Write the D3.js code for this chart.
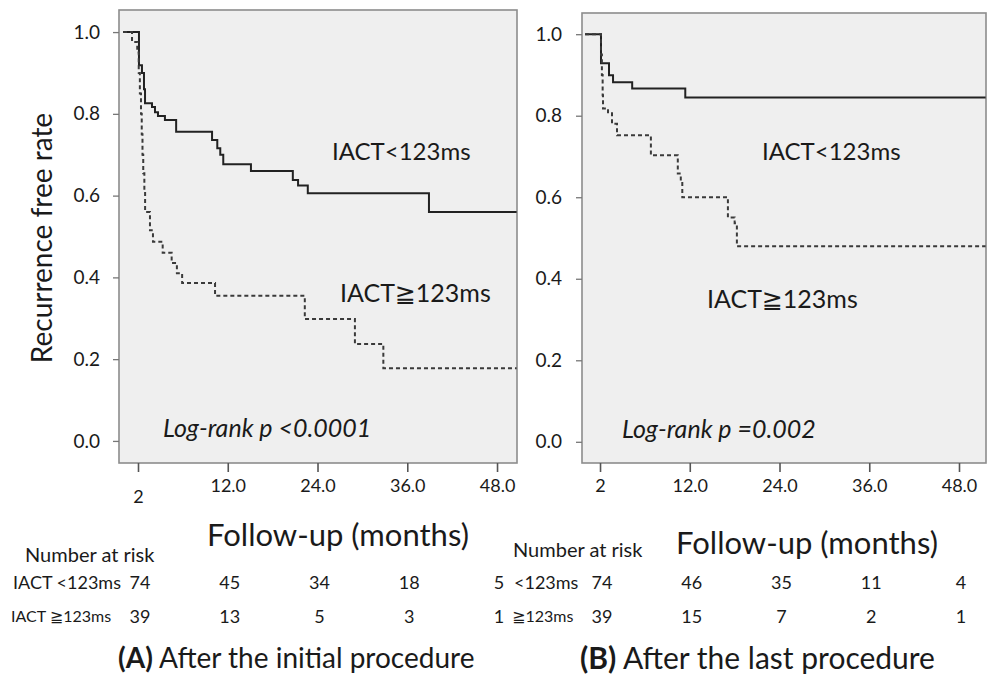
<!DOCTYPE html>
<html>
<head>
<meta charset="utf-8">
<script src="https://cdn.jsdelivr.net/npm/d3@7"></script>
<style>
  body { margin: 0; background: #fff; }
  text { font-family: Lato, "DejaVu Sans", sans-serif; fill: #1a1a1a; }
</style>
</head>
<body>
<svg id="chart" width="989" height="686"></svg>
<script>
// follow-up months at the axis ticks and the labels printed under them
const tickMonths = [0, 12, 24, 36, 48];
const tickLabels = ["2", "12.0", "24.0", "36.0", "48.0"];
const yTicks = [0, 0.2, 0.4, 0.6, 0.8, 1.0];

// (A) after the initial procedure
const timeA_short = [-2, 0.13, 0.53, 0.8, 0.94, 1.87, 2.27, 2.67, 3.6, 5.1, 9.9, 10.6, 11.0, 11.4, 15.1, 20.7, 21.4, 22.7, 38.9];
const survA_short = [1.0, 0.919, 0.90, 0.86, 0.826, 0.817, 0.804, 0.795, 0.785, 0.756, 0.736, 0.716, 0.70, 0.677, 0.66, 0.638, 0.625, 0.606, 0.56];
const timeA_long = [-2, -0.8, -0.1, 0.1, 0.25, 0.4, 0.5, 0.6, 0.7, 0.85, 0.95, 1.6, 2.0, 3.3, 4.5, 5.2, 5.9, 10.3, 22.3, 29.0, 32.8];
const survA_long = [1.0, 0.976, 0.95, 0.90, 0.85, 0.80, 0.75, 0.70, 0.655, 0.61, 0.56, 0.515, 0.487, 0.46, 0.435, 0.41, 0.386, 0.355, 0.298, 0.237, 0.178];

// (B) after the last procedure
const timeB_short = [-2, 0.13, 1.2, 1.74, 4.3, 11.4];
const survB_short = [1.0, 0.929, 0.899, 0.882, 0.867, 0.845];
const timeB_long = [-2, 0.13, 0.25, 0.35, 0.4, 1.07, 1.6, 2.27, 6.8, 10.4, 10.8, 11.0, 17.1, 18.0, 18.3];
const survB_long = [1.0, 0.95, 0.90, 0.85, 0.818, 0.806, 0.78, 0.752, 0.703, 0.658, 0.641, 0.60, 0.55, 0.536, 0.48];

// number at risk under each tick
const riskA_short = [74, 45, 34, 18, 5];
const riskA_long = [39, 13, 5, 3, 1];
const riskB_short = [74, 46, 35, 11, 4];
const riskB_long = [39, 15, 7, 2, 1];

const svg = d3.select("#chart");

function drawPanel(p) {
  const x = d3.scaleLinear().domain(p.xDomain).range([p.box.left, p.box.right]);
  const y = d3.scaleLinear().domain(p.yDomain).range([p.box.bottom, p.box.top]);
  const g = svg.append("g");

  g.append("rect")
    .attr("x", p.box.left)
    .attr("y", p.box.top)
    .attr("width", p.box.right - p.box.left)
    .attr("height", p.box.bottom - p.box.top)
    .attr("fill", "#efefef")
    .attr("stroke", "#8c8c8c")
    .attr("stroke-width", 1.6);

  const yAxis = g.append("g")
    .attr("transform", "translate(" + p.box.left + ",0)")
    .call(d3.axisLeft(y).tickValues(yTicks).tickFormat(d3.format(".1f")).tickSize(6).tickPadding(p.yPad));
  yAxis.select(".domain").remove();
  yAxis.selectAll("line").attr("stroke", "#777").attr("stroke-width", 1.3);
  yAxis.selectAll("text").style("font-size", "19px").attr("fill", "#1a1a1a");

  const xAxis = g.append("g")
    .attr("transform", "translate(0," + p.box.bottom + ")")
    .call(d3.axisBottom(x).tickValues(tickMonths).tickFormat((d, i) => tickLabels[i]).tickSize(9).tickPadding(7));
  xAxis.select(".domain").remove();
  xAxis.selectAll("line").attr("stroke", "#555").attr("stroke-width", 1.6);
  xAxis.selectAll("text").style("font-size", "18px").attr("fill", "#1a1a1a");
  // the first label sits a little lower in panel A
  xAxis.selectAll("text").filter((d, i) => i === 0).attr("dy", p.firstDy);

  const line = d3.line()
    .x((d) => x(d[0]))
    .y((d) => y(d[1]))
    .curve(d3.curveStepAfter);

  function curve(times, surv, dashed) {
    const pts = times.map((t, i) => [t, surv[i]]);
    pts.push([p.xDomain[1] - 0.05, surv[surv.length - 1]]);
    g.append("path")
      .datum(pts)
      .attr("d", line)
      .attr("fill", "none")
      .attr("stroke", dashed ? "#3a3a3a" : "#222")
      .attr("stroke-width", 2)
      .attr("stroke-dasharray", dashed ? "4,3" : null);
  }
  curve(p.shortT, p.shortS, false);
  curve(p.longT, p.longS, true);

  // curve labels and test result
  g.append("text").attr("x", p.lab1[0]).attr("y", p.lab1[1])
    .attr("dominant-baseline", "middle").style("font-size", "24px").text("IACT<123ms");
  g.append("text").attr("x", p.lab2[0]).attr("y", p.lab2[1])
    .attr("dominant-baseline", "middle").style("font-size", "25px").text("IACT\u2267123ms");
  g.append("text").attr("x", p.lab3[0]).attr("y", p.lab3[1])
    .attr("dominant-baseline", "middle").style("font-size", "25px").style("font-style", "italic")
    .text(p.logrank);

  // axis title
  g.append("text")
    .attr("x", p.title[0]).attr("y", p.title[1])
    .attr("text-anchor", "middle").attr("dominant-baseline", "middle")
    .style("font-size", "31px").text("Follow-up (months)");

  // number at risk table
  g.append("text").attr("x", p.riskHead[0]).attr("y", p.riskHead[1])
    .attr("dominant-baseline", "middle").style("font-size", "20px").text("Number at risk");
  g.append("text").attr("x", p.rowLab[0]).attr("y", p.rowY[0])
    .attr("dominant-baseline", "middle").style("font-size", "18px").text(p.rowNames[0]);
  g.append("text").attr("x", p.rowLab[1]).attr("y", p.rowY[1])
    .attr("dominant-baseline", "middle").style("font-size", "16px").text(p.rowNames[1]);

  [p.riskShort, p.riskLong].forEach((row, r) => {
    g.selectAll(null)
      .data(row)
      .enter()
      .append("text")
      .attr("x", (d, i) => x(tickMonths[i]) + 2)
      .attr("y", p.rowY[r])
      .attr("text-anchor", "middle")
      .attr("dominant-baseline", "middle")
      .style("font-size", "18px")
      .text((d) => d);
  });

  // caption
  const cap = g.append("text").attr("x", p.caption[0]).attr("y", p.caption[1])
    .attr("dominant-baseline", "middle").style("font-size", p.capSize + "px");
  cap.append("tspan").style("font-weight", "bold").text(p.capLetter);
  cap.append("tspan").text(" " + p.capText);

  return { x, y };
}

drawPanel({
  box: { left: 119, top: 10, right: 517, bottom: 463 },
  xDomain: [-2.54, 50.67],
  yDomain: [-0.054, 1.054],
  yPad: 13,
  firstDy: "1.35em",
  shortT: timeA_short, shortS: survA_short,
  longT: timeA_long, longS: survA_long,
  lab1: [332, 154], lab2: [340, 296], lab3: [163, 431],
  logrank: "Log-rank p <0.0001",
  title: [338, 538],
  riskHead: [25, 557],
  rowLab: [13, 11], rowY: [584, 618],
  rowNames: ["IACT <123ms", "IACT \u2267123ms"],
  riskShort: riskA_short, riskLong: riskA_long,
  caption: [118, 661], capSize: 28, capLetter: "(A)", capText: "After the initial procedure"
});

drawPanel({
  box: { left: 582, top: 13, right: 986, bottom: 463 },
  xDomain: [-2.41, 51.61],
  yDomain: [-0.052, 1.052],
  yPad: 14,
  firstDy: "0.71em",
  shortT: timeB_short, shortS: survB_short,
  longT: timeB_long, longS: survB_long,
  lab1: [762, 154], lab2: [707, 302], lab3: [622, 432],
  logrank: "Log-rank p =0.002",
  title: [807, 546],
  riskHead: [513, 552],
  rowLab: [514, 512], rowY: [584, 618],
  rowNames: ["<123ms", "\u2267123ms"],
  riskShort: riskB_short, riskLong: riskB_long,
  caption: [580, 661], capSize: 30, capLetter: "(B)", capText: "After the last procedure"
});

// shared y axis title
svg.append("text")
  .attr("transform", "translate(45,238) rotate(-90)")
  .attr("text-anchor", "middle")
  .attr("dominant-baseline", "middle")
  .style("font-size", "28px")
  .text("Recurrence free rate");
</script>
</body>
</html>
